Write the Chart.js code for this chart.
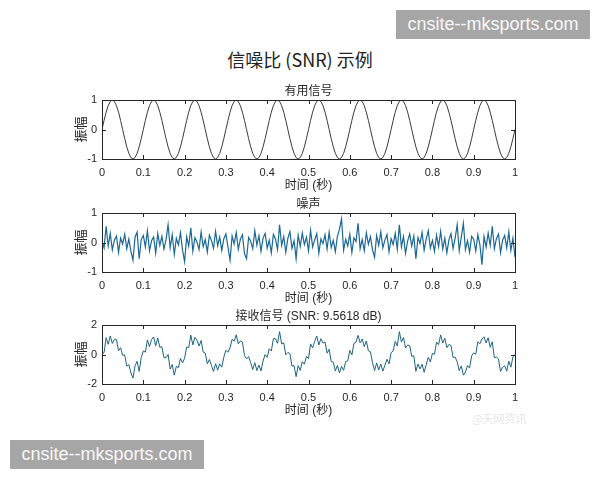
<!DOCTYPE html>
<html>
<head>
<meta charset="utf-8">
<script src="https://cdn.jsdelivr.net/npm/chart.js@4"></script>
<style>
body{margin:0;background:#fff;width:600px;height:480px;position:relative;overflow:hidden;font-family:'Noto Sans CJK SC',sans-serif}
canvas{position:absolute;left:0}
#titulo{position:absolute;left:0;width:600px;top:46px;text-align:center;font-size:18px;color:#222;line-height:26px}
.marca{position:absolute;background:#a6a6a6;color:#f8f8f8;font-family:'Liberation Sans',sans-serif;font-size:18px;line-height:29px;text-align:center}
#fraca{position:absolute;left:472px;top:410px;font-size:11px;color:#e6e6e6}
</style>
</head>
<body>
<div id="titulo">信噪比 (SNR) 示例</div>
<canvas id="graficoSinal" width="600" height="120" style="top:79px"></canvas>
<canvas id="graficoRuido" width="600" height="120" style="top:192px"></canvas>
<canvas id="graficoRecebido" width="600" height="120" style="top:304px"></canvas>
<div class="marca" style="left:396px;top:10px;width:194px;height:29px">cnsite--mksports.com</div>
<div class="marca" style="left:10px;top:440px;width:194px;height:29px">cnsite--mksports.com</div>
<div id="fraca">@天网资讯</div>
<script>
const passo=0.005
const xTicks=['0','0.1','0.2','0.3','0.4','0.5','0.6','0.7','0.8','0.9','1']
const titulos=['有用信号','噪声','接收信号 (SNR: 9.5618 dB)']
const yLimites=[[-1,1,1],[-1,1,1],[-2,2,2]]
const sinal=[
0,0.309,0.588,0.809,0.951,1,0.951,0.809,0.588,0.309,0,-0.309,-0.588,-0.809,-0.951,-1,-0.951,-0.809,-0.588,-0.309,
0,0.309,0.588,0.809,0.951,1,0.951,0.809,0.588,0.309,0,-0.309,-0.588,-0.809,-0.951,-1,-0.951,-0.809,-0.588,-0.309,
0,0.309,0.588,0.809,0.951,1,0.951,0.809,0.588,0.309,0,-0.309,-0.588,-0.809,-0.951,-1,-0.951,-0.809,-0.588,-0.309,
0,0.309,0.588,0.809,0.951,1,0.951,0.809,0.588,0.309,0,-0.309,-0.588,-0.809,-0.951,-1,-0.951,-0.809,-0.588,-0.309,
0,0.309,0.588,0.809,0.951,1,0.951,0.809,0.588,0.309,0,-0.309,-0.588,-0.809,-0.951,-1,-0.951,-0.809,-0.588,-0.309,
0,0.309,0.588,0.809,0.951,1,0.951,0.809,0.588,0.309,0,-0.309,-0.588,-0.809,-0.951,-1,-0.951,-0.809,-0.588,-0.309,
0,0.309,0.588,0.809,0.951,1,0.951,0.809,0.588,0.309,0,-0.309,-0.588,-0.809,-0.951,-1,-0.951,-0.809,-0.588,-0.309,
0,0.309,0.588,0.809,0.951,1,0.951,0.809,0.588,0.309,0,-0.309,-0.588,-0.809,-0.951,-1,-0.951,-0.809,-0.588,-0.309,
0,0.309,0.588,0.809,0.951,1,0.951,0.809,0.588,0.309,0,-0.309,-0.588,-0.809,-0.951,-1,-0.951,-0.809,-0.588,-0.309,
0,0.309,0.588,0.809,0.951,1,0.951,0.809,0.588,0.309,0,-0.309,-0.588,-0.809,-0.951,-1,-0.951,-0.809,-0.588,-0.309,
0]
const ruido=[
0.05,-0.18,0.55,-0.12,0.31,-0.25,0.08,0.22,-0.34,0.15,
-0.05,0.28,-0.21,0.12,-0.3,-0.6,0.18,0.35,-0.55,0.1,
0.24,-0.15,0.4,-0.28,0.06,0.19,-0.36,0.3,-0.1,0.21,
-0.22,0.09,0.6,-0.18,0.27,-0.4,0.14,-0.08,0.33,-0.26,
-0.65,0.2,-0.12,0.5,-0.3,0.16,0.02,-0.24,0.36,-0.14,
0.1,-0.32,0.25,0.07,-0.2,0.38,-0.11,0.18,-0.27,0.13,
0.29,-0.16,-0.6,0.22,-0.05,0.34,-0.23,0.11,0.26,-0.38,
-0.55,0.17,0.04,-0.21,0.4,-0.09,0.23,-0.3,0.15,0.31,
-0.19,0.08,-0.35,0.27,0.12,-0.24,0.6,-0.1,0.2,-0.33,
0.14,0.37,-0.2,0.06,-0.55,0.25,-0.13,0.32,-0.07,0.18,
-0.28,0.41,-0.15,0.09,0.3,-0.36,0.12,-0.04,0.26,-0.22,
0.35,-0.17,0.07,-0.31,0.21,0.45,0.8,-0.26,0.11,-0.12,
0.28,-0.34,0.16,0.03,0.65,-0.21,0.1,-0.28,0.33,-0.06,
0.19,-0.25,-0.5,0.24,-0.1,0.36,-0.18,0.08,0.27,-0.32,
0.13,-0.07,0.31,-0.23,0.6,-0.15,0.2,-0.37,0.05,0.29,
-0.12,0.22,-0.55,0.17,-0.03,0.34,-0.26,0.12,0.4,-0.19,
0.07,-0.3,0.25,-0.14,0.38,-0.22,0.15,-0.35,0.09,0.3,
-0.2,0.14,0.6,-0.28,0.18,0.65,-0.24,0.06,-0.33,0.21,
0.11,-0.29,0.27,-0.08,-0.75,0.2,-0.16,0.32,-0.1,0.55,
-0.21,0.13,0.29,-0.34,0.08,0.24,-0.18,0.36,-0.27,0.15,
-0.5]
const recebido=[
0.05,0.13,1.14,0.69,1.26,0.75,1.03,1.03,0.25,0.46,
-0.05,-0.03,-0.8,-0.69,-1.25,-1.6,-0.77,-0.46,-1.14,-0.21,
0.24,0.16,0.99,0.53,1.01,1.19,0.59,1.11,0.49,0.52,
-0.22,-0.22,0.01,-0.99,-0.68,-1.4,-0.81,-0.89,-0.26,-0.57,
-0.25,0.51,0.47,1.31,0.65,1.16,0.97,0.57,0.95,0.17,
0.1,-0.63,-0.34,-0.74,-1.15,-0.62,-1.06,-0.63,-0.86,-0.18,
0.29,0.15,0.45,1.03,0.9,1.34,0.72,0.92,0.85,-0.07,
-0.3,-0.14,-0.55,-1.02,-0.55,-1.09,-0.72,-1.11,-0.44,0,
-0.19,0.39,0.24,1.08,1.07,0.76,1.55,0.71,0.79,-0.02,
0.14,0.06,-0.79,-0.75,-1.5,-0.75,-1.08,-0.49,-0.66,-0.13,
-0.28,0.72,0.44,0.9,1.25,0.64,1.07,0.77,0.85,0.09,
0.35,-0.48,-0.52,-1.12,-0.74,-1.25,-0.8,-1.07,-0.48,-0.43,
0.28,-0.03,0.75,0.84,1.3,0.79,1.05,0.53,0.92,0.25,
0.19,-0.56,-1.09,-0.57,-1.05,-0.64,-1.13,-0.73,-0.32,-0.63,
0.13,0.24,0.9,0.58,1.55,0.85,1.15,0.44,0.64,0.6,
-0.12,-0.09,-1.14,-0.64,-0.98,-0.66,-1.21,-0.69,-0.19,-0.5,
0.07,0.01,0.84,0.67,1.33,0.78,1.1,0.46,0.68,0.61,
-0.2,-0.17,-0.5,-1.09,-0.77,-1.4,-1.19,-0.75,-0.92,-0.1,
0.11,0.02,0.86,0.73,1.05,1.2,0.79,1.13,0.49,0.86,
-0.21,-0.18,-0.3,-1.15,-0.87,-0.76,-1.13,-0.45,-0.86,-0.16,
0]
const cores=['#3a3a3a','#1a6896','#1f6480']

const fonte="'Liberation Sans','Noto Sans CJK SC',sans-serif"
const corTexto='#262626'

// caixa estilo matlab com ticks para dentro
const caixa={
id:'caixa',
afterDraw(chart){
const {ctx,chartArea:a,scales:{x,y}}=chart
ctx.save()
ctx.strokeStyle=corTexto
ctx.lineWidth=1
ctx.strokeRect(Math.round(a.left)+0.5,Math.round(a.top)+0.5,Math.round(a.right-a.left),Math.round(a.bottom-a.top))
ctx.beginPath()
x.ticks.forEach(t=>{
const px=Math.round(x.getPixelForValue(t.value))+0.5
ctx.moveTo(px,a.bottom);ctx.lineTo(px,a.bottom-4)
ctx.moveTo(px,a.top);ctx.lineTo(px,a.top+4)
})
y.ticks.forEach(t=>{
const py=Math.round(y.getPixelForValue(t.value))+0.5
ctx.moveTo(a.left,py);ctx.lineTo(a.left+4,py)
ctx.moveTo(a.right,py);ctx.lineTo(a.right-4,py)
})
ctx.stroke()
ctx.restore()
}
}

const criarGrafico=(id,valores,n)=>{
const pontos=valores.map((v,i)=>({x:i*passo,y:v}))
return new Chart(document.getElementById(id),{
type:'line',
data:{datasets:[{data:pontos,borderColor:cores[n],borderWidth:n==1?1.2:1,pointRadius:0,tension:0,fill:false}]},
options:{
responsive:false,
animation:false,
layout:{padding:{left:58,right:85,top:0,bottom:0}},
plugins:{
legend:{display:false},
tooltip:{enabled:false},
title:{display:true,text:titulos[n],fullSize:false,color:corTexto,font:{family:fonte,size:12,weight:'normal',lineHeight:1},padding:{top:7,bottom:2}}
},
scales:{
x:{type:'linear',min:0,max:1,
grid:{display:false,drawTicks:false},border:{display:false},
ticks:{stepSize:0.1,autoSkip:false,maxRotation:0,padding:7,color:corTexto,font:{family:fonte,size:11},callback:(v,i)=>xTicks[i]},
title:{display:true,text:'时间 (秒)',color:corTexto,font:{family:fonte,size:12,lineHeight:1},padding:{top:0,bottom:7}},
afterFit:s=>{s.height=40}},
y:{min:yLimites[n][0],max:yLimites[n][1],
grid:{display:false,drawTicks:false},border:{display:false},
ticks:{stepSize:yLimites[n][2],padding:5,color:corTexto,font:{family:fonte,size:11}},
title:{display:true,text:'振幅',color:corTexto,font:{family:fonte,size:13,lineHeight:1},padding:{top:17,bottom:0}},
afterFit:s=>{s.width=44}}
}
},
plugins:[caixa]
})
}

const graficoSinal=criarGrafico('graficoSinal',sinal,0)
const graficoRuido=criarGrafico('graficoRuido',ruido,1)
const graficoRecebido=criarGrafico('graficoRecebido',recebido,2)
</script>
</body>
</html>
